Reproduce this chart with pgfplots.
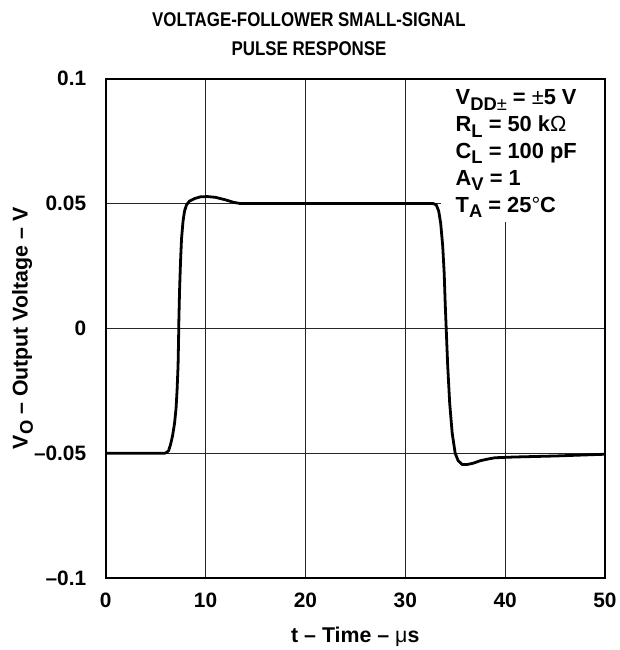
\documentclass[border=0pt]{standalone}
\usepackage{pgfplots}
\pgfplotsset{compat=1.18}
\usepackage{fontspec}
\setmainfont{Liberation Sans}
\newcommand\sub[1]{\raisebox{-0.25em}{\fontsize{18.5}{18.5}\selectfont #1}}
\newcommand\lbl{\fontsize{21.5}{24}\selectfont\bfseries}
\newcommand\tck{\fontsize{21}{24}\selectfont\bfseries}
\newcommand\ann{\fontsize{22}{24}\selectfont\bfseries}
\begin{document}
\begin{tikzpicture}
\begin{axis}[name=ax, scale only axis, width=501bp, height=501bp,
  xmin=0, xmax=50, ymin=-0.1, ymax=0.1,
  xtick={0,10,20,30,40,50}, xticklabels={0,10,20,30,40,50},
  ytick={-0.1,-0.05,0,0.05,0.1}, yticklabels={--0.1,--0.05,0,0.05,0.1},
  grid=major, major grid style={line width=0.9bp, black!85},
  major tick length=0,
  axis line style={line width=2bp},
  tick label style={font=\tck},
  yticklabel style={xshift=-16bp},
  xticklabel style={yshift=-11bp},
  xlabel={t -- Time -- {\mdseries μ}s},
  ylabel={V\sub{O} -- Output Voltage -- V},
  label style={font=\lbl},
  xlabel style={yshift=-13bp},
  ylabel style={yshift=-6bp},
]
\fill[white] (axis cs:33.6,0.0425) rectangle ([xshift=-1.2bp,yshift=-1.2bp]axis cs:50,0.1);
\addplot[black, line width=2.8bp, line join=round, line cap=round] coordinates {
(0,-0.05) (5.9,-0.05) (6.1,-0.0497) (6.3,-0.049) (6.5,-0.0465) (6.7,-0.043) (6.9,-0.038) (7.05,-0.032) (7.15,-0.025) (7.25,-0.015) (7.3,-0.005) (7.33,0.003) (7.4,0.015) (7.5,0.027) (7.6,0.036) (7.75,0.043) (7.9,0.047) (8.1,0.0495) (8.4,0.051) (8.9,0.052) (9.5,0.0527) (10.2,0.0528) (11,0.0525) (12,0.0515) (12.8,0.0505) (13.5,0.050) (32.8,0.050) (33.1,0.0495) (33.35,0.047) (33.55,0.042) (33.75,0.033) (33.9,0.022) (34.0,0.010) (34.1,0) (34.25,-0.015) (34.45,-0.030) (34.7,-0.042) (35.0,-0.050) (35.3,-0.053) (35.7,-0.0545) (36.2,-0.0545) (36.8,-0.054) (37.5,-0.053) (38.3,-0.0523) (39.0,-0.0518) (41,-0.0515) (45,-0.0511) (50,-0.0504)
};
\end{axis}
\node[anchor=base, font=\fontsize{20}{22}\selectfont\bfseries] at ([xshift=204bp,yshift=52bp]ax.north west) {\scalebox{0.85}[1]{VOLTAGE-FOLLOWER SMALL-SIGNAL}};
\node[anchor=base, font=\fontsize{20}{22}\selectfont\bfseries] at ([xshift=204bp,yshift=23bp]ax.north west) {\scalebox{0.85}[1]{PULSE RESPONSE}};
\begin{scope}[every node/.style={anchor=base west, inner sep=0pt, font=\ann}]
\node at ([xshift=351bp,yshift=-26bp]ax.north west) {V\sub{DD{\mdseries ±}} = {\mdseries ±}5 V};
\node at ([xshift=351bp,yshift=-53bp]ax.north west) {R\sub{L} = 50 k{\mdseries Ω}};
\node at ([xshift=351bp,yshift=-80bp]ax.north west) {C\sub{L} = 100 pF};
\node at ([xshift=351bp,yshift=-107bp]ax.north west) {A\sub{V} = 1};
\node at ([xshift=351bp,yshift=-134bp]ax.north west) {T\sub{A} = 25{\mdseries °}C};
\end{scope}
\path ([xshift=-106bp,yshift=-70bp]ax.south west) rectangle ([xshift=13bp,yshift=79bp]ax.north east);
\end{tikzpicture}
\end{document}
